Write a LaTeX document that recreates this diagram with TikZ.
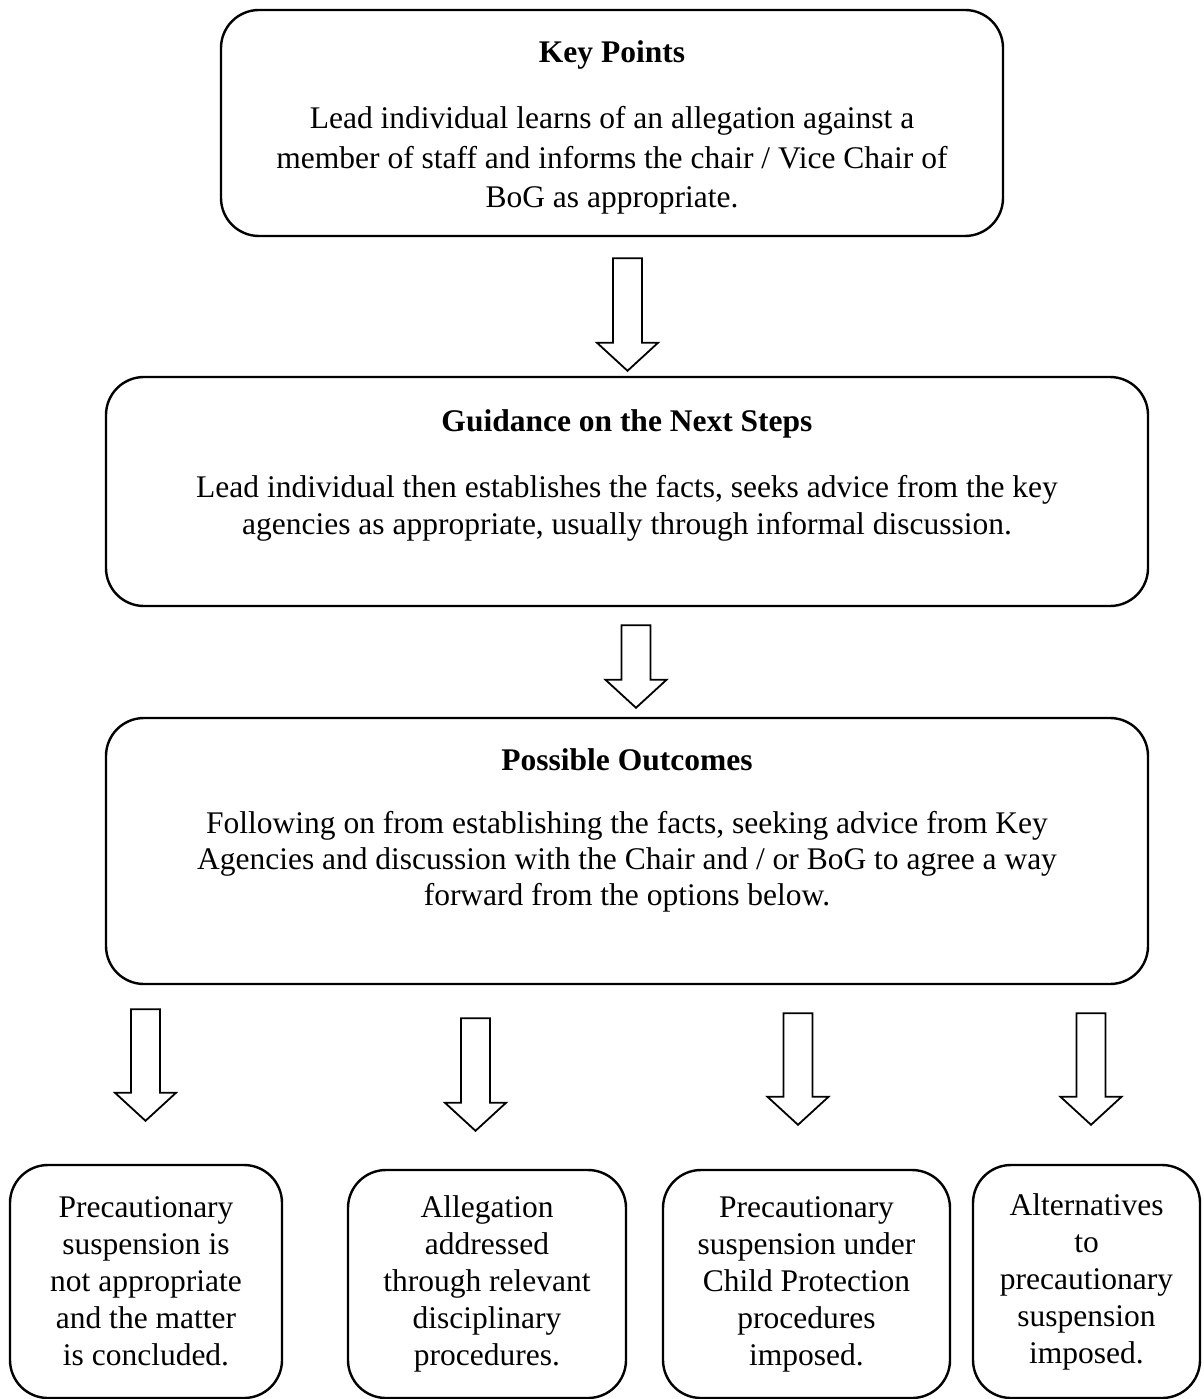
\documentclass[tikz,border=0pt]{standalone}
\usepackage{fontspec}
\setmainfont{Liberation Serif}
\usetikzlibrary{positioning,calc}

\begin{document}
\begin{tikzpicture}[x=1pt,y=-1pt,
    box/.style={draw,line width=2.4pt,rounded corners=38pt,align=center,
      inner sep=0pt,font=\fontsize{31.5}{36.2}\selectfont},
    smallbox/.style={box,font=\fontsize{31.5}{37}\selectfont},
    hollow/.style={line width=1.8pt,to path={
      let \p1=(\tikztostart), \p2=(\tikztotarget) in
      (\x2-14.5pt,\y1) -- (\x2+14.5pt,\y1) -- (\x2+14.5pt,\y2+28pt)
      -- (\x2+30.5pt,\y2+28pt) -- (\x2,\y2) -- (\x2-30.5pt,\y2+28pt)
      -- (\x2-14.5pt,\y2+28pt) -- cycle}}]
  \useasboundingbox (0,0) rectangle (1203,1399);

  \node[box,font=\fontsize{31.5}{39.5}\selectfont,
        minimum width=782pt,minimum height=226pt] (kp) at (612,123)
    {\mbox{}\\[-8pt]
     \textbf{Key Points}\\[26.5pt]
     Lead individual learns of an allegation against a\\
     member of staff and informs the chair / Vice Chair of\\
     BoG as appropriate.};
  \node[box,minimum width=1042pt,minimum height=229pt] (gd) at (627,491.5)
    {\textbf{Guidance on the Next Steps}\\[30pt]
     Lead individual then establishes the facts, seeks advice from the key\\
     agencies as appropriate, usually through informal discussion.\\[3pt]\mbox{}};
  \node[box,minimum width=1042pt,minimum height=266pt] (po) at (627,851)
    {\textbf{Possible Outcomes}\\[27pt]
     Following on from establishing the facts, seeking advice from Key\\
     Agencies and discussion with the Chair and / or BoG to agree a way\\
     forward from the options below.\\[12pt]\mbox{}};

  \node[smallbox,minimum width=272pt,minimum height=233pt] (b1) at (146,1281.5)
    {Precautionary\\ suspension is\\ not appropriate\\ and the matter\\ is concluded.};
  \node[smallbox,minimum width=278pt,minimum height=228pt] (b2) at (487,1284)
    {Allegation\\ addressed\\ through relevant\\ disciplinary\\ procedures.};
  \node[smallbox,minimum width=287pt,minimum height=228pt] (b3) at (806.5,1284)
    {Precautionary\\ suspension under\\ Child Protection\\ procedures\\ imposed.};
  \node[smallbox,minimum width=227pt,minimum height=233pt] (b4) at (1086.5,1281.5)
    {Alternatives\\ to\\ precautionary\\ suspension\\ imposed.};

  \draw[hollow] ($(kp.south)+(0,21)$) to ($(gd.north)+(0.5,-5)$);
  \draw[hollow] ($(gd.south)+(0,18)$) to ($(po.north)+(9,-9)$);
  \foreach \b/\dy/\dx/\gap in {b1/24/-0.5/43, b2/33/-11.5/38,
                               b3/28/-8.5/44, b4/28/4.5/39}
    \draw[hollow] ($(po.south)+(0,\dy)$) to ($(\b.north)+(\dx,-\gap)$);
\end{tikzpicture}
\end{document}
